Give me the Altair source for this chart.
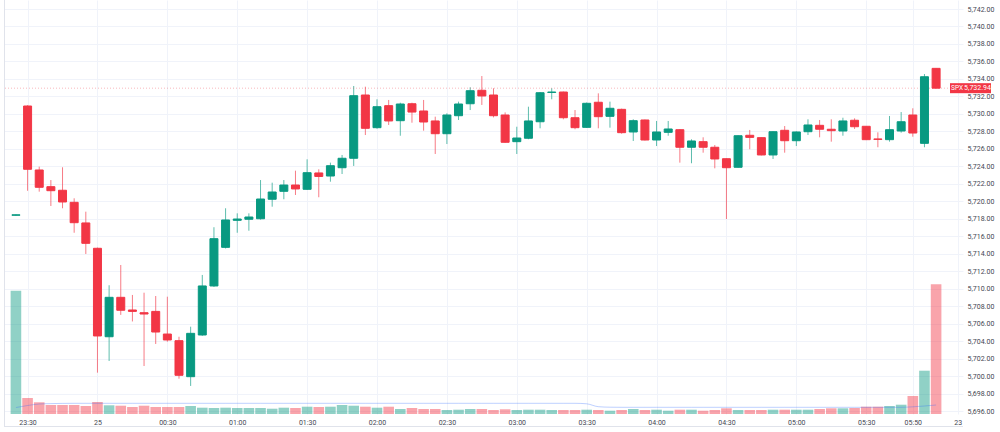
import json
import altair as alt
import pandas as pd

# ---- data (5-minute SPX candles, 23:25 -> 06:00) ----
opens = [5718.40, 5730.90, 5723.58, 5721.67, 5721.26, 5719.88, 5717.52, 5714.62, 5704.50, 5709.01,
         5707.56, 5707.25, 5707.40, 5704.81, 5704.05, 5699.93, 5704.70, 5710.31, 5714.73, 5717.82,
         5717.94, 5718.00, 5720.23, 5721.14, 5721.86, 5721.37, 5723.24, 5722.89, 5723.84, 5724.92,
         5732.16, 5728.42, 5730.94, 5729.22, 5731.16, 5730.33, 5729.19, 5727.73, 5729.79, 5731.16,
         5732.70, 5732.16, 5729.87, 5726.82, 5727.21, 5729.10, 5732.45, 5732.50, 5729.56, 5728.46,
         5731.33, 5729.72, 5730.52, 5727.93, 5729.30, 5727.01, 5727.89, 5728.19, 5726.18, 5726.82,
         5726.18, 5724.87, 5723.89, 5727.55, 5727.28, 5725.30, 5728.12, 5726.93, 5727.96, 5728.69,
         5728.24, 5728.04, 5729.27, 5728.58, 5727.13, 5727.05, 5728.04, 5729.87, 5726.63, 5735.21]
highs = [5718.50, 5731.00, 5723.96, 5722.43, 5723.89, 5720.34, 5718.81, 5714.70, 5710.39, 5712.71,
         5709.28, 5709.54, 5709.16, 5709.08, 5704.50, 5705.65, 5711.57, 5717.03, 5719.20, 5718.62,
         5718.62, 5722.43, 5722.13, 5722.43, 5723.50, 5724.80, 5723.66, 5724.42, 5725.30, 5733.19,
         5733.11, 5731.67, 5731.59, 5731.28, 5731.28, 5731.59, 5729.68, 5730.07, 5731.40, 5733.04,
         5734.33, 5732.93, 5730.17, 5728.53, 5730.82, 5732.50, 5732.93, 5732.55, 5730.44, 5731.30,
         5732.35, 5731.40, 5730.60, 5729.38, 5729.35, 5729.19, 5729.19, 5728.25, 5727.09, 5727.32,
         5726.44, 5724.90, 5727.55, 5728.16, 5727.30, 5728.00, 5728.61, 5728.00, 5729.38, 5729.30,
         5729.38, 5729.56, 5729.49, 5728.60, 5727.89, 5729.76, 5730.21, 5730.64, 5734.56, 5735.25]
lows = [5718.35, 5721.20, 5721.10, 5719.46, 5719.20, 5716.40, 5713.97, 5700.39, 5701.73, 5707.00,
        5706.25, 5701.15, 5703.67, 5703.93, 5699.70, 5698.87, 5704.60, 5710.20, 5714.60, 5716.40,
        5716.63, 5717.90, 5719.38, 5720.23, 5720.72, 5721.30, 5720.46, 5722.24, 5723.12, 5724.04,
        5727.58, 5728.30, 5728.73, 5727.50, 5728.99, 5728.08, 5725.41, 5726.55, 5729.30, 5730.44,
        5731.02, 5729.60, 5726.70, 5725.41, 5727.10, 5728.35, 5731.67, 5729.38, 5728.24, 5728.40,
        5728.35, 5728.42, 5727.73, 5726.90, 5726.95, 5726.32, 5727.50, 5724.42, 5724.35, 5725.56,
        5723.77, 5717.97, 5723.85, 5725.95, 5725.25, 5724.84, 5725.56, 5726.32, 5727.58, 5727.32,
        5726.82, 5727.50, 5728.27, 5727.00, 5726.18, 5726.82, 5727.85, 5727.39, 5726.18, 5732.90]
closes = [5718.45, 5723.66, 5721.60, 5721.21, 5719.92, 5717.55, 5715.19, 5704.59, 5709.01, 5707.53,
          5707.40, 5707.10, 5705.04, 5704.13, 5700.09, 5704.89, 5710.31, 5715.72, 5717.86, 5717.97,
          5718.20, 5720.26, 5721.06, 5721.86, 5721.41, 5723.27, 5722.84, 5724.07, 5724.92, 5732.08,
          5728.35, 5730.82, 5729.19, 5731.13, 5730.21, 5729.07, 5727.73, 5729.87, 5731.13, 5732.65,
          5732.05, 5729.79, 5726.75, 5727.24, 5729.19, 5732.42, 5732.50, 5729.56, 5728.42, 5731.21,
          5729.68, 5730.64, 5727.85, 5729.22, 5727.01, 5727.93, 5728.27, 5726.18, 5726.90, 5726.18,
          5724.84, 5723.84, 5727.50, 5727.31, 5725.30, 5727.96, 5726.93, 5727.93, 5728.73, 5728.24,
          5728.08, 5729.19, 5728.53, 5727.05, 5727.08, 5728.19, 5729.10, 5727.81, 5734.25, 5732.94]
volumes = [123.3, 16.0, 11.7, 9.0, 9.0, 9.0, 8.0, 12.0, 8.7, 8.3,
           7.0, 8.3, 7.0, 7.0, 7.0, 8.0, 6.3, 6.0, 6.3, 6.0,
           6.0, 6.0, 5.3, 6.3, 6.0, 7.3, 7.0, 7.3, 9.0, 8.3,
           7.3, 6.3, 7.3, 5.0, 6.0, 5.0, 5.0, 4.0, 4.3, 5.0,
           5.0, 4.0, 4.7, 4.0, 4.3, 4.3, 4.0, 4.0, 4.0, 4.3,
           4.0, 3.3, 4.0, 5.0, 4.0, 4.3, 3.3, 4.3, 4.3, 3.3,
           4.0, 5.7, 4.0, 4.0, 4.0, 4.3, 4.3, 4.3, 4.3, 5.0,
           5.7, 5.7, 6.0, 7.3, 7.3, 8.0, 9.3, 18.0, 43.3, 129.7]
volume_ma = ([6.5, 8.5, 10.0, 10.4, 10.6] + [10.7] * 44 + [10.2, 7.3, 6.8]
             + [6.7] * 25 + [7.2, 8.0, 9.0])

tick_idx = [1, 7, 13, 19, 25, 31, 37, 43, 49, 55, 61, 67, 73, 77, 80.85]
tick_labels = ["23:30", "25", "00:30", "01:00", "01:30", "02:00", "02:30", "03:00",
               "03:30", "04:00", "04:30", "05:00", "05:30", "05:50", "23"]
price_ticks = [5696 + 2 * k for k in range(24)]
last_price = [5732.94]
symbol = ["SPX"]

UP, DOWN = "#089981", "#F23645"
FONT = "Roboto"

df = pd.DataFrame({
    "i": list(range(len(opens))),
    "open": opens, "high": highs, "low": lows, "close": closes,
    "vol": volumes, "ma": volume_ma,
})
df["dir"] = ["up" if c >= o else "down" for o, c in zip(opens, closes)]

W, H = 959, 414
x_scale = alt.Scale(domain=[-0.595, 80.88], nice=False, zero=False)
p_scale = alt.Scale(domain=[5695.66, 5743.03], nice=False, zero=False)
v_scale = alt.Scale(domain=[0, 414], nice=False)
col = alt.Color("dir:N", scale=alt.Scale(domain=["up", "down"], range=[UP, DOWN]), legend=None)

label_expr = "%s[indexof(%s, datum.value)]" % (json.dumps(tick_labels), json.dumps(tick_idx))

x_axis = alt.Axis(values=tick_idx, labelExpr=label_expr, grid=True, gridColor="#f0f3fa",
                  domain=False, ticks=False, labelPadding=4, title=None,
                  tickCount=len(tick_idx) + 5)
y_axis = alt.Axis(values=price_ticks, format=",.2f", orient="right", grid=True,
                  gridColor="#f0f3fa", domain=False, ticks=False, labelPadding=4,
                  labelAlign="left", title=None, tickCount=len(price_ticks) + 5)

base = alt.Chart(df)

vol_bars = base.mark_bar(size=10.6, opacity=0.45).encode(
    x=alt.X("i:Q", scale=x_scale, axis=x_axis),
    y=alt.Y("vol:Q", scale=v_scale, axis=None),
    color=col,
)
vol_ma = base.mark_line(color="#2962FF", opacity=0.3, strokeWidth=1, interpolate="monotone").encode(
    x=alt.X("i:Q", scale=x_scale),
    y=alt.Y("ma:Q", scale=v_scale, axis=None),
)
volume_layer = alt.layer(vol_bars, vol_ma)

wicks = base.mark_rule(strokeWidth=1, opacity=0.65).encode(
    x=alt.X("i:Q", scale=x_scale),
    y=alt.Y("low:Q", scale=p_scale, axis=y_axis),
    y2="high:Q",
    color=col,
)
bodies = base.mark_bar(size=8, strokeWidth=1).encode(
    x=alt.X("i:Q", scale=x_scale),
    y=alt.Y("open:Q", scale=p_scale),
    y2="close:Q",
    color=col,
    stroke=alt.Stroke("dir:N", scale=alt.Scale(domain=["up", "down"], range=[UP, DOWN]), legend=None),
)

lp = pd.DataFrame({"p": last_price, "sym": symbol, "txt": ["{:,.2f}".format(v) for v in last_price]})
lp_base = alt.Chart(lp)
py = alt.Y("p:Q", scale=p_scale)
price_line = lp_base.mark_rule(color=DOWN, opacity=0.35, strokeDash=[1, 2], strokeWidth=1).encode(y=py)
sym_box = lp_base.mark_tick(orient="vertical", size=10, thickness=14, color=DOWN, opacity=1, clip=False).encode(
    x=alt.value(953), y=py
)
sym_txt = lp_base.mark_text(color="white", font=FONT, fontSize=6.5, align="center", baseline="middle", clip=False).encode(
    x=alt.value(953), y=py, text="sym:N"
)
price_box = lp_base.mark_tick(orient="vertical", size=10, thickness=27, color=DOWN, opacity=1, clip=False).encode(
    x=alt.value(973.5), y=py
)
price_txt = lp_base.mark_text(color="white", font=FONT, fontSize=7, align="center", baseline="middle", clip=False).encode(
    x=alt.value(973.5), y=py, text="txt:N"
)

frame_left = lp_base.mark_rule(color="#e0e3eb", strokeWidth=1).encode(
    x=alt.value(0.5), y=alt.value(0), y2=alt.value(427)
)
frame_bottom = lp_base.mark_rule(color="#e0e3eb", strokeWidth=1).encode(
    x=alt.value(0), x2=alt.value(W), y=alt.value(426.5)
)

price_layer = alt.layer(wicks, price_line, bodies, sym_box, sym_txt, price_box, price_txt,
                        frame_left, frame_bottom)

chart = alt.layer(volume_layer, price_layer).resolve_scale(y="independent").properties(
    width=W, height=H,
    padding={"left": 4, "top": 0, "right": 1000 - 4 - W, "bottom": 18},
    autosize="none",
    background="white",
).configure_view(strokeWidth=0).configure_axis(
    labelOverlap=False, labelFlush=False, labelFont=FONT, labelFontSize=7,
    labelColor="#434651", labelBound=False,
)

chart.save("out.html", embed_options={"renderer": "svg", "actions": False})
